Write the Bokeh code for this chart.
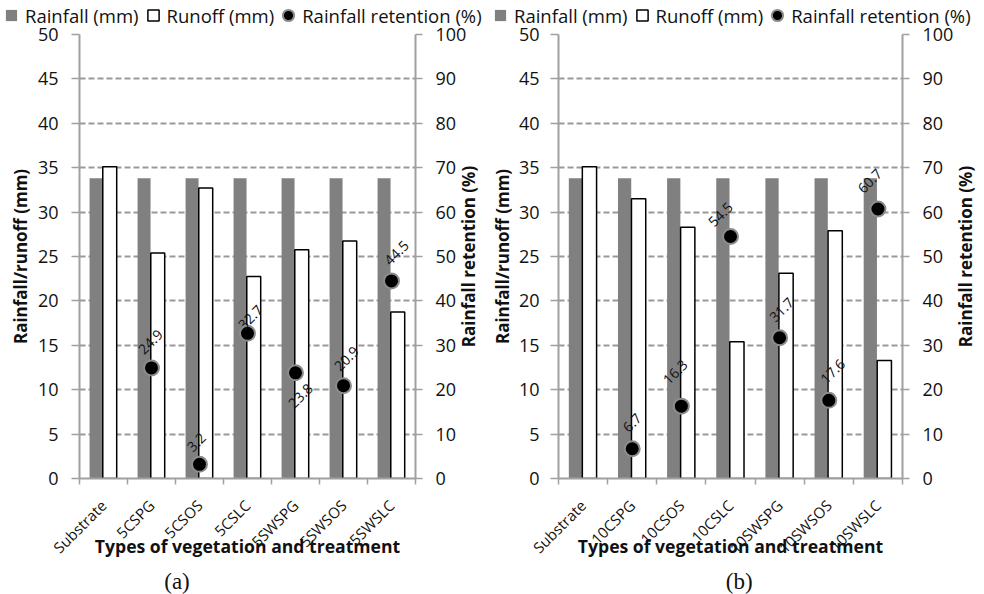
from math import pi
from bokeh.plotting import figure
from bokeh.models import (Range1d, LinearAxis, FixedTicker, Legend, LegendItem,
                          ColumnDataSource, Label)
from bokeh.layouts import row, column
from bokeh.core.properties import value
from bokeh.embed import file_html
from bokeh.resources import INLINE

# ---------------- data ----------------
cats_a = ["Substrate", "5CSPG", "5CSOS", "5CSLC", "5SWSPG", "5SWSOS", "5SWSLC"]
rain_a = [33.8, 33.8, 33.8, 33.8, 33.8, 33.8, 33.8]
runoff_a = [35.1, 25.4, 32.7, 22.75, 25.75, 26.75, 18.75]
ret_a = [None, 24.9, 3.2, 32.7, 23.8, 20.9, 44.5]

cats_b = ["Substrate", "10CSPG", "10CSOS", "10CSLC", "10SWSPG", "10SWSOS", "10SWSLC"]
rain_b = [33.8, 33.8, 33.8, 33.8, 33.8, 33.8, 33.8]
runoff_b = [35.1, 31.5, 28.3, 15.4, 23.1, 27.9, 13.3]
ret_b = [None, 6.7, 16.3, 54.5, 31.7, 17.6, 60.7]

y_ticks = [0, 5, 10, 15, 20, 25, 30, 35, 40, 45, 50]
ret_ticks = [0, 10, 20, 30, 40, 50, 60, 70, 80, 90, 100]

legend_labels = ["Rainfall (mm)", "Runoff (mm)", "Rainfall retention (%)"]
y_title = "Rainfall/runoff (mm)"
y2_title = "Rainfall retention (%)"
x_title = "Types of vegetation and treatment"

# ---------------- styles ----------------
FONT = "Open Sans"
GRAY = "#808080"
AXIS_GRAY = "#a0a0a0"
GRID_GRAY = "#999999"
TXT = "#111111"
DOT_LINE = "#8c8c8c"

# data-label offsets in screen px (dx, dy-down)
offs_a = [(0, 0), (-1, -26), (-3, -22), (3, -16), (5, 23), (3, -27), (5, -28)]
offs_b = [(0, 0), (0, -26), (-6, -34), (-10, -22), (2, -28), (4, -29), (-8, -28)]

cfg_a = dict(bl=79, br=75, lstd=13, lt_dx=-59, rt_dx=53, leg_x=-3, letter="(a)", letter_x=176.5)
cfg_b = dict(bl=66, br=82, lstd=11, lt_dx=-56, rt_dx=63, leg_x=-6, letter="(b)", letter_x=246.7)

W = 492
LEG_H = 26
LET_H = 28
MAIN_H = 594 - LEG_H - LET_H
TOP = 8
FRAME_H = 444


def bare_fig(h, xr, yr):
    f = figure(width=W, height=h, x_range=xr, y_range=yr,
               output_backend="svg", toolbar_location=None,
               min_border_left=0, min_border_right=0, min_border_top=0, min_border_bottom=0,
               x_axis_location=None, y_axis_location=None)
    f.grid.visible = False
    f.outline_line_color = None
    return f


def make_legend_fig(cfg):
    lf = bare_fig(LEG_H, Range1d(0, 1), Range1d(0, 1))
    # off-canvas points: only their legend glyphs are seen
    r1 = lf.scatter([-100], [-100], marker="square", fill_color=GRAY, line_color=None)
    r2 = lf.scatter([-100], [-100], marker="square", fill_color="white",
                    line_color="black", line_width=1.5)
    r3 = lf.scatter([-100], [-100], marker="circle", fill_color="black",
                    line_color=DOT_LINE, line_width=2)
    leg = Legend(items=[LegendItem(label=legend_labels[0], renderers=[r1]),
                        LegendItem(label=legend_labels[1], renderers=[r2]),
                        LegendItem(label=legend_labels[2], renderers=[r3])],
                 orientation="horizontal", location=(cfg["leg_x"], -3),
                 glyph_width=28, glyph_height=28, label_standoff=0, spacing=0,
                 padding=0, margin=0, label_height=28,
                 background_fill_alpha=0, border_line_color=None,
                 label_text_font=FONT, label_text_font_size="18.5px",
                 label_text_color=TXT, label_text_baseline="middle")
    lf.add_layout(leg)
    return lf


def make_letter_fig(cfg):
    f = bare_fig(LET_H, Range1d(0, W), Range1d(0, LET_H))
    f.add_layout(Label(x=cfg["letter_x"], y=13, text=cfg["letter"], text_align="center",
                       text_baseline="middle", text_font="Liberation Serif",
                       text_font_size="23px", text_color=TXT))
    return f


def side_title(text, x, x_offset):
    return Label(x=x, y=25, x_offset=x_offset, text=text, angle=pi / 2,
                 text_align="center", text_baseline="middle", text_font=FONT,
                 text_font_size="17px", text_font_style="bold", text_color=TXT)


def make_panel(cats, rain, runoff, ret, offs, cfg):
    n = len(cats)
    xs = list(range(n))
    p = figure(width=W, height=MAIN_H, x_range=Range1d(-0.5, n - 0.5), y_range=Range1d(0, 50),
               output_backend="svg", toolbar_location=None,
               min_border_left=cfg["bl"], min_border_right=cfg["br"],
               min_border_top=TOP, min_border_bottom=MAIN_H - TOP - FRAME_H)
    p.extra_y_ranges = {"ret": Range1d(0, 100)}
    p.outline_line_color = None

    # bars
    p.vbar(x=[x - 0.155 for x in xs], top=rain, bottom=0, width=0.27,
           fill_color=GRAY, line_color=None)
    p.vbar(x=[x + 0.13 for x in xs], top=runoff, bottom=0, width=0.29,
           fill_color="white", line_color="black", line_width=1.5)

    # retention points + labels
    rx, ry, rt, dx, dy = [], [], [], [], []
    for i, v in enumerate(ret):
        if v is None:
            continue
        rx.append(xs[i]); ry.append(v); rt.append(f"{v:.1f}")
        dx.append(offs[i][0]); dy.append(offs[i][1])
    src = ColumnDataSource(dict(x=rx, y=ry, t=rt, dx=dx, dy=dy))
    p.scatter("x", "y", source=src, y_range_name="ret", size=15,
              fill_color="black", line_color=DOT_LINE, line_width=2)
    p.text("x", "y", text="t", source=src, y_range_name="ret", x_offset="dx", y_offset="dy",
           angle=pi / 4, text_align="center", text_baseline="middle",
           text_font=value(FONT), text_font_size="14px", text_color=TXT)

    # grid
    p.xgrid.visible = False
    p.ygrid.ticker = FixedTicker(ticks=y_ticks)
    p.ygrid.grid_line_color = GRID_GRAY
    p.ygrid.grid_line_dash = "6 3"
    p.ygrid.grid_line_width = 2

    def style_y(ax, tick_out, std):
        ax.axis_line_color = AXIS_GRAY
        ax.axis_line_width = 2
        ax.major_tick_line_color = AXIS_GRAY
        ax.major_tick_line_width = 1.5
        ax.major_tick_out = tick_out
        ax.major_tick_in = 0
        ax.minor_tick_line_color = None
        ax.major_label_standoff = std
        ax.major_label_text_font = FONT
        ax.major_label_text_font_size = "18px"
        ax.major_label_text_color = TXT

    # left axis (title as a label in the left side panel)
    ya = p.yaxis[0]
    ya.ticker = FixedTicker(ticks=y_ticks)
    style_y(ya, 8, cfg["lstd"])
    p.add_layout(side_title(y_title, -0.5, cfg["lt_dx"]), "left")

    # right axis (title as a label in the right side panel, reading upward)
    ra = LinearAxis(y_range_name="ret", ticker=FixedTicker(ticks=ret_ticks))
    style_y(ra, 7, 13)
    p.add_layout(ra, "right")
    p.add_layout(side_title(y2_title, n - 0.5, cfg["rt_dx"]), "right")

    # x axis
    xa = p.xaxis[0]
    xa.ticker = FixedTicker(ticks=xs, minor_ticks=[x - 0.5 for x in xs] + [n - 0.5])
    xa.major_label_overrides = {x: c for x, c in zip(xs, cats)}
    xa.major_label_orientation = pi / 4
    xa.axis_line_color = AXIS_GRAY
    xa.axis_line_width = 2
    xa.major_tick_line_color = None
    xa.major_tick_out = 0
    xa.minor_tick_line_color = AXIS_GRAY
    xa.minor_tick_line_width = 1.5
    xa.minor_tick_out = 6
    xa.minor_tick_in = 0
    xa.major_label_standoff = 18
    xa.major_label_text_font = FONT
    xa.major_label_text_font_size = "15px"
    xa.major_label_text_color = TXT
    xa.axis_label = x_title
    xa.axis_label_standoff = -33
    xa.axis_label_text_font = FONT
    xa.axis_label_text_font_size = "17.6px"
    xa.axis_label_text_font_style = "bold"
    xa.axis_label_text_color = TXT
    return p


la = make_legend_fig(cfg_a)
lb = make_legend_fig(cfg_b)
pa = make_panel(cats_a, rain_a, runoff_a, ret_a, offs_a, cfg_a)
pb = make_panel(cats_b, rain_b, runoff_b, ret_b, offs_b, cfg_b)
ta = make_letter_fig(cfg_a)
tb = make_letter_fig(cfg_b)
layout = column(row(la, lb, spacing=0), row(pa, pb, spacing=0), row(ta, tb, spacing=0),
                spacing=0)

open("out.html", "w").write(file_html(layout, INLINE))
